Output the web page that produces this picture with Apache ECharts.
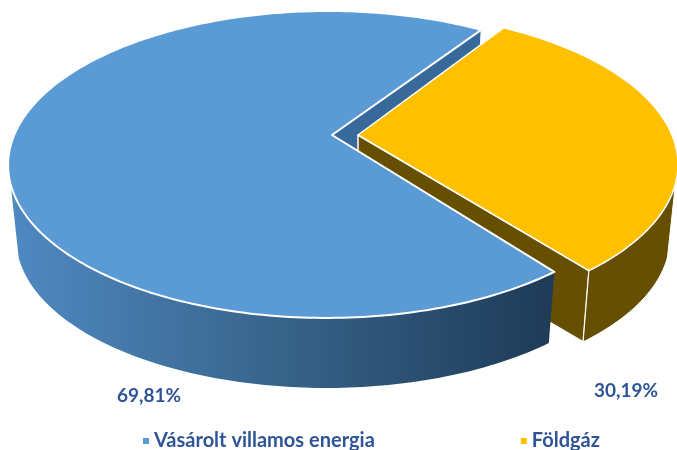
<!DOCTYPE html>
<html>
<head>
<meta charset="utf-8">
<style>html,body{margin:0;padding:0;background:#fff}#c{width:677px;height:450px}</style>
<script src="https://cdn.jsdelivr.net/npm/echarts@6/dist/echarts.min.js"></script>
</head>
<body>
<div id="c"></div>
<script>
var categories = ['Vásárolt villamos energia', 'Földgáz'];
var shares = [69.81, 30.19];
var colors = ['#5b9bd5', '#ffc000'];

var total = shares[0] + shares[1];
var toRad = Math.PI / 180;
var blueStart = 52.5;
var blueEnd = blueStart + shares[0] / total * 360;
var yellowEnd = 51.3;
var yellowStart = yellowEnd - shares[1] / total * 360;

var persp = 0.192, ry = 147.8, apexY = 135, bottomShift = 209.6, shrink = 0.975;
var geo = [
  { ax: 332, rx: 313, skew: 0.015 },
  { ax: 358, rx: 314, skew: 0 }
];
function rimPoint(g, deg) {
  var c = Math.cos(deg * toRad), s = Math.sin(deg * toRad), w = 1 - persp * s + g.skew * c;
  return [g.ax + g.rx * c / w, apexY + ry * s / w];
}
function lowerPoint(g, p) {
  return [g.ax + (p[0] - g.ax) * shrink, bottomShift + (p[1] - apexY) * shrink];
}
function rimArc(g, a, b) {
  var pts = [], n = Math.max(2, Math.ceil(Math.abs(b - a)));
  for (var i = 0; i <= n; i++) pts.push(rimPoint(g, a + (b - a) * i / n));
  return pts;
}
function wallPts(g, a, b) {
  var t = rimArc(g, a, b);
  return t.concat(t.slice().reverse().map(function (p) { return lowerPoint(g, p); }));
}
function facePts(g, deg) {
  var r = rimPoint(g, deg), c = [g.ax, apexY];
  return [c, r, lowerPoint(g, r), lowerPoint(g, c)];
}
function poly(points, style) {
  return { type: 'polygon', shape: { points: points }, style: style };
}
function valueText(text, x, y) {
  return {
    type: 'text',
    style: { text: text, x: x, y: y, align: 'center', verticalAlign: 'middle',
      font: 'bold 19px Lato, "Open Sans", sans-serif', fill: '#2f5597' }
  };
}
function pct(v) { return v.toFixed(2).replace('.', ',') + '%'; }

var chart = echarts.init(document.getElementById('c'), null, { renderer: 'canvas' });
chart.setOption({
  animation: false,
  backgroundColor: '#ffffff',
  legend: {
    data: categories,
    left: 138,
    top: 426,
    itemWidth: 6,
    itemHeight: 6,
    itemGap: 146,
    icon: 'rect',
    textStyle: { color: '#2f5597', fontFamily: 'Lato', fontWeight: 'bold', fontSize: 20 }
  },
  series: [
    {
      name: 'hátlap',
      type: 'custom',
      coordinateSystem: 'none',
      z: 1,
      data: [shares[0]],
      renderItem: function () {
        return { type: 'group', children: [
          poly(facePts(geo[0], blueEnd), { fill: '#376a9b', stroke: '#ffffff', lineWidth: 1 })
        ] };
      }
    },
    {
      name: categories[1],
      type: 'custom',
      coordinateSystem: 'none',
      z: 2,
      color: colors[1],
      data: [shares[1]],
      renderItem: function (p, api) {
        var g = geo[1];
        return { type: 'group', children: [
          poly(facePts(g, yellowEnd), { fill: '#664f00', stroke: '#ffffff', lineWidth: 1.5, lineJoin: 'round' }),
          poly(wallPts(g, 18, yellowEnd), { fill: '#664f00', stroke: '#ffffff', lineWidth: 1 }),
          poly([[g.ax, apexY]].concat(rimArc(g, yellowStart, yellowEnd)), { fill: colors[1], stroke: '#ffffff', lineWidth: 1.5, lineJoin: 'round' }),
          valueText(pct(api.value(0)), 626, 391)
        ] };
      }
    },
    {
      name: categories[0],
      type: 'custom',
      coordinateSystem: 'none',
      z: 3,
      color: colors[0],
      data: [shares[0]],
      renderItem: function (p, api) {
        var g = geo[0];
        return { type: 'group', children: [
          poly(wallPts(g, blueStart, 162), {
            fill: { type: 'linear', x: 10, y: 0, x2: 556, y2: 0, global: true, colorStops: [
              { offset: 0, color: '#4f89c2' }, { offset: 0.5, color: '#376389' }, { offset: 1, color: '#1e3a57' }
            ] }
          }),
          poly([[g.ax, apexY]].concat(rimArc(g, blueStart, blueEnd)), { fill: colors[0], stroke: '#ffffff', lineWidth: 2, lineJoin: 'round' }),
          valueText(pct(api.value(0)), 149, 396)
        ] };
      }
    }
  ]
});
</script>
</body>
</html>
